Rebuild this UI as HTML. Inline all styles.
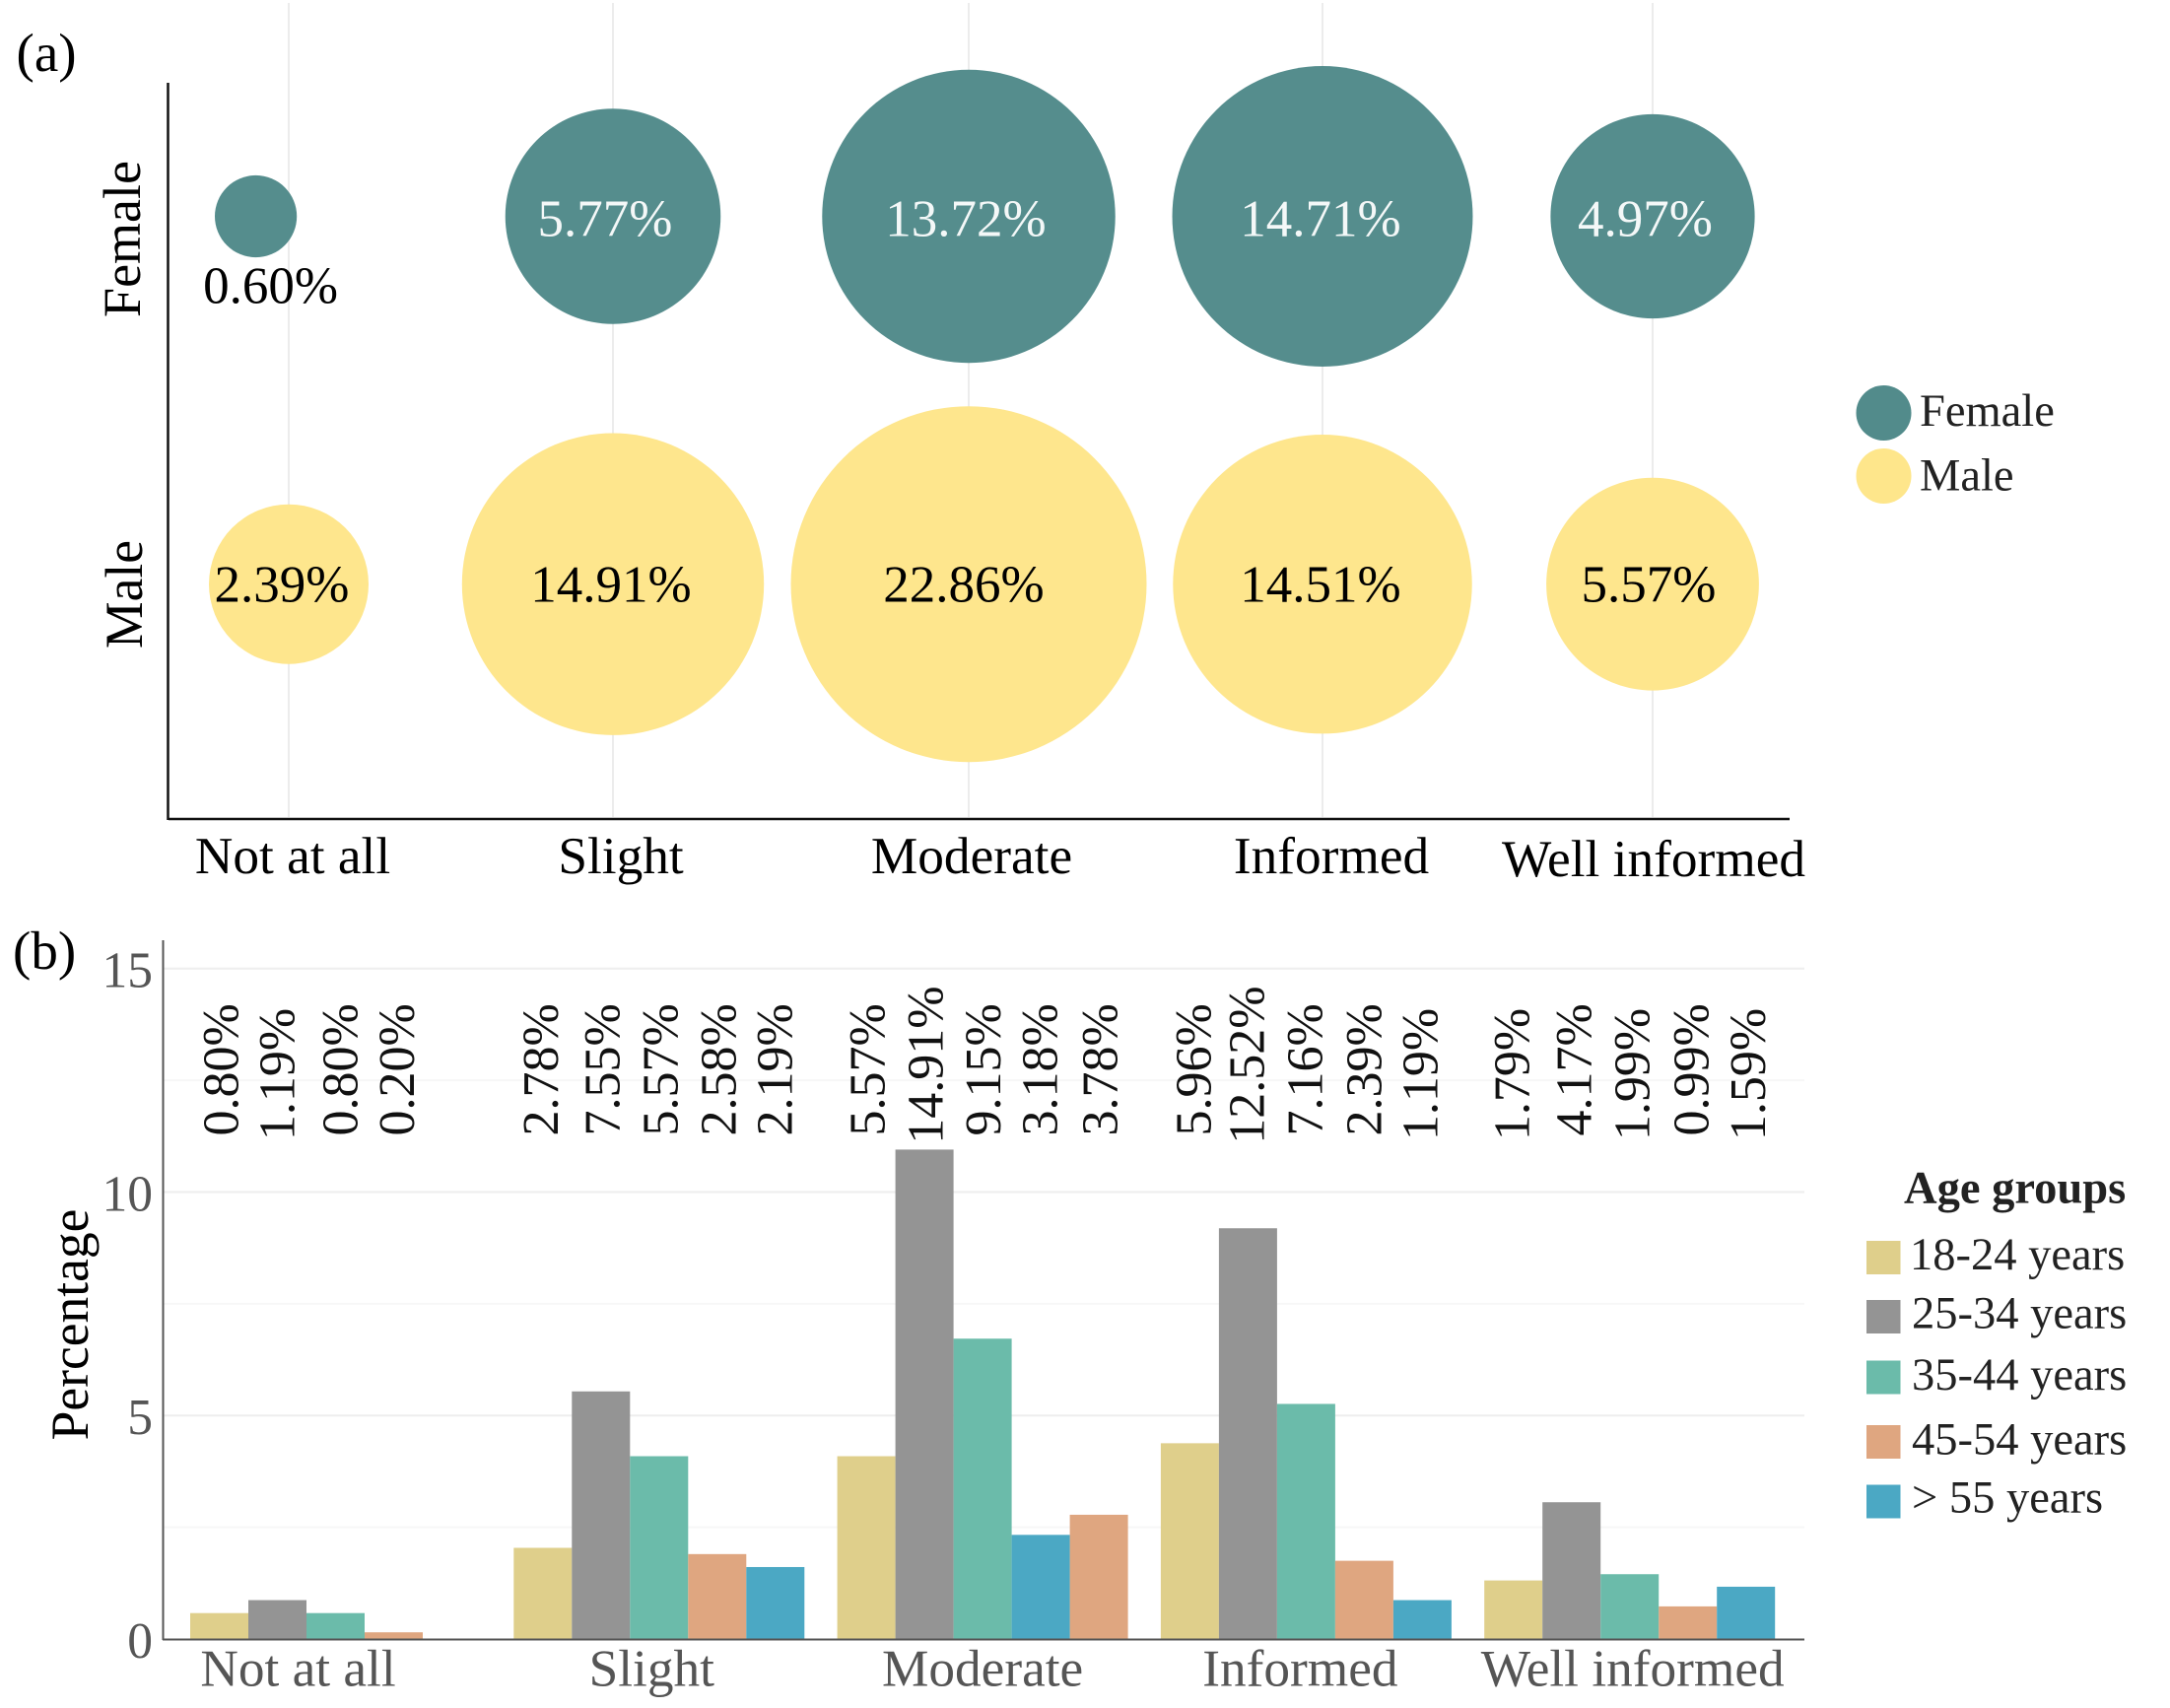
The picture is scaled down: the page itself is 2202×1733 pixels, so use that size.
<!DOCTYPE html>
<html lang="en">
<head>
<meta charset="utf-8">
<title>Awareness by gender and age group</title>
<style>
  html, body { margin: 0; padding: 0; background: #fff; }
  svg { display: block; }
  text { font-family: "Liberation Serif", "Times New Roman", serif; }
</style>
</head>
<body>
<svg id="figure" xmlns="http://www.w3.org/2000/svg" width="2202" height="1733" viewBox="0 0 2202 1733">
  <rect x="0" y="0" width="2202" height="1733" fill="#ffffff"/>
  <g id="gridA"></g>
  <g id="bubbles"></g>
  <g id="ticksA"></g>
  <g id="gridB"></g>
  <g id="bars"></g>
  <g id="printed"></g>
  <g id="ticksB"></g>
  <g id="legendB"></g>

  <text x="16.5" y="72" font-size="55" fill="#000">(a)</text>
  <text x="13" y="983" font-size="55" fill="#000">(b)</text>

  <line x1="170.5" y1="84" x2="170.5" y2="832" stroke="#111" stroke-width="2.5"/>
  <line x1="171" y1="831" x2="1816" y2="831" stroke="#111" stroke-width="2.5"/>
  <text transform="translate(142,242.5) rotate(-90)" text-anchor="middle" font-size="54" fill="#000">Female</text>
  <text transform="translate(144,603) rotate(-90)" text-anchor="middle" font-size="53.5" fill="#000">Male</text>

  <g>
    <circle cx="1911.5" cy="419" r="28" fill="#528b8b"/>
    <text x="1948" y="432" font-size="46.5" fill="#222">Female</text>
    <circle cx="1911.5" cy="483" r="28" fill="#fee68b"/>
    <text x="1948" y="497.5" font-size="46.5" fill="#222">Male</text>
  </g>

  <line x1="165.5" y1="954" x2="165.5" y2="1664" stroke="#555" stroke-width="2"/>
  <line x1="165" y1="1663.5" x2="1831" y2="1663.5" stroke="#555" stroke-width="2"/>
  <text transform="translate(89,1344) rotate(-90)" text-anchor="middle" font-size="53.5" fill="#000">Percentage</text>
  <text x="1932" y="1220.5" font-size="46.5" font-weight="bold" fill="#222">Age groups</text>
</svg>

<script>
// Panel (a) data
const categories = ['Not at all', 'Slight', 'Moderate', 'Informed', 'Well informed'];
const femaleValues = [0.60, 5.77, 13.72, 14.71, 4.97];
const maleValues = [2.39, 14.91, 22.86, 14.51, 5.57];

// Panel (b) data: bar heights
const ageGroups = ['18-24 years', '25-34 years', '35-44 years', '45-54 years', '> 55 years'];
const bars1824 = [0.58, 2.04, 4.09, 4.38, 1.31];
const bars2534 = [0.87, 5.54, 10.95, 9.19, 3.06];
const bars3544 = [0.58, 4.09, 6.72, 5.26, 1.45];
const bars4554 = [0.15, 1.90, 2.78, 1.75, 0.73];
const bars55up = [null, 1.61, 2.33, 0.87, 1.17];

// Panel (b) data: percentages printed above the bars
const printed1824 = ['0.80%', '2.78%', '5.57%', '5.96%', '1.79%'];
const printed2534 = ['1.19%', '7.55%', '14.91%', '12.52%', '4.17%'];
const printed3544 = ['0.80%', '5.57%', '9.15%', '7.16%', '1.99%'];
const printed4554 = ['0.20%', '2.58%', '3.78%', '2.39%', '0.99%'];
const printed55up = [null, '2.19%', '3.18%', '1.19%', '1.59%'];

// Axis tick values
const yTicks = [0, 5, 10, 15];
const yGrid = [2.5, 5, 7.5, 10, 12.5, 15];

const barSeries = [bars1824, bars2534, bars3544, bars4554, bars55up];
const printedSeries = [printed1824, printed2534, printed3544, printed4554, printed55up];

const NS = 'http://www.w3.org/2000/svg';
function mk(parentId, tag, attrs, textContent) {
  const node = document.createElementNS(NS, tag);
  Object.keys(attrs).forEach(function (k) { node.setAttribute(k, attrs[k]); });
  if (textContent !== undefined) node.textContent = textContent;
  document.getElementById(parentId).appendChild(node);
  return node;
}

// Scales
function bubbleX(i) {
  const stops = [293, 622, 983, 1342, 1677];
  return stops[i];
}
function bubbleRadius(v) {
  const dom = [0.6, 2.39, 4.97, 14.91, 22.86];
  const rng = [41.6, 81, 103.6, 153.2, 180.5];
  let k = 0;
  while (k < dom.length - 2 && v > dom[k + 1]) k++;
  const t = (Math.log(v) - Math.log(dom[k])) / (Math.log(dom[k + 1]) - Math.log(dom[k]));
  return Math.exp(Math.log(rng[k]) + t * (Math.log(rng[k + 1]) - Math.log(rng[k])));
}
function yB(v) { return 1663 - v * 45.35; }
const swappedCategory = 'Moderate';
function barSlot(seriesIdx, catIdx) {
  if (categories[catIdx] === swappedCategory && seriesIdx === 3) return 4;
  if (categories[catIdx] === swappedCategory && seriesIdx === 4) return 3;
  return seriesIdx;
}
function barLeft(catIdx, slot) { return 193 + 328.3 * catIdx + 59 * slot; }

const seriesColors = ['#dfcf8b', '#949494', '#6bbbaa', '#dfa680', '#4ba8c4'];

// Panel (a)
categories.forEach(function (cat, i) {
  const g = mk('gridA', 'line', { x1: bubbleX(i), x2: bubbleX(i), y1: 3, y2: 829, stroke: '#ececec', 'stroke-width': 2 });
  
  
});

function drawBubbles(values, cy, baseline, fill, labelFill, shifts, markName, labelName) {
  values.forEach(function (v, i) {
    const r = bubbleRadius(v);
    const tiny = v < 1;
    const cx = bubbleX(i) + (tiny ? -33.4 : 0);
    const c = mk('bubbles', 'circle', { cx: cx, cy: cy, r: r, fill: fill, 'fill-opacity': 0.985 });
    
    
    const t = mk('bubbles', 'text', {
      x: cx + shifts[i],
      y: tiny ? cy + r + 46.5 : baseline,
      'text-anchor': 'middle',
      'font-size': 53,
      fill: tiny ? '#000' : labelFill
    }, v.toFixed(2) + '%');
    
    
  });
}
drawBubbles(femaleValues, 219.5, 239.5, '#528b8b', '#f4f8f8', [15, -8, -3, -2, -7.5], 'bubble-female', 'bubble-label-female');
drawBubbles(maleValues, 592.7, 610.5, '#fee68b', '#000', [-7, -2, -5, -2, -4], 'bubble-male', 'bubble-label-male');

const tickNudgeA = [4, 8, 3, 9, 1];
categories.forEach(function (cat, i) {
  const t = mk('ticksA', 'text', {
    x: bubbleX(i) + tickNudgeA[i],
    y: cat === 'Well informed' ? 889 : 886,
    'text-anchor': 'middle',
    'font-size': 53.3,
    fill: '#000'
  }, cat);
  
  
});

// Panel (b)
yGrid.forEach(function (v) {
  const minor = v % 5 !== 0;
  const g = mk('gridB', 'line', { x1: 166, x2: 1831, y1: yB(v), y2: yB(v), stroke: minor ? '#f7f7f7' : '#eeeeee', 'stroke-width': 2 });
  
  
});

barSeries.forEach(function (series, s) {
  series.forEach(function (v, c) {
    if (v === null) return;
    const b = mk('bars', 'rect', {
      x: barLeft(c, barSlot(s, c)),
      y: yB(v),
      width: 59,
      height: yB(0) - yB(v),
      fill: seriesColors[s]
    });
    
    
  });
});

function labelNudge(catIdx, slot) {
  const table = [
    [19.2, 16.8, 22.2, 20.5, 18.5],
    [15.2, 18.9, 18.9, 18.9, 16.5],
    [18.6, 18.6, 17.9, 16.2, 18.2],
    [20.9, 16.3, 16.3, 17.3, 14.9],
    [16.0, 19.6, 19.6, 20.6, 19.3]
  ];
  return table[catIdx][slot];
}
printedSeries.forEach(function (series, s) {
  series.forEach(function (label, c) {
    if (label === null) return;
    const slot = barSlot(s, c);
    const bx = barLeft(c, slot) + 29.5 + labelNudge(c, slot);
    const by = 1152.5 + (label.charAt(0) === '1' ? 4.6 : 0) + (parseFloat(label) >= 10 ? 3.6 : 0);
    const t = mk('printed', 'text', {
      transform: 'translate(' + bx + ',' + by + ') rotate(-90)',
      'font-size': 52,
      fill: '#111'
    }, label);
    
    
  });
});

yTicks.forEach(function (v) {
  const t = mk('ticksB', 'text', {
    x: 155,
    y: yB(v) + 18.8,
    'text-anchor': 'end',
    'font-size': 51.5,
    fill: '#555'
  }, String(v));
  
  
});

const tickNudgeB = [-38, -7.5, 0, -6, 3];
categories.forEach(function (cat, i) {
  const t = mk('ticksB', 'text', {
    x: barLeft(i, 2.5) + tickNudgeB[i],
    y: 1710.5,
    'text-anchor': 'middle',
    'font-size': 53.3,
    fill: '#555'
  }, cat);
  
  
});

// Legend (b)
const legendTops = [1259, 1319, 1380.5, 1446, 1506.5];
const legendBase = [1288, 1347.7, 1410, 1475.3, 1534.4];
ageGroups.forEach(function (name, i) {
  const sw = mk('legendB', 'rect', { x: 1894, y: legendTops[i], width: 34.5, height: 34, fill: seriesColors[i] });
  
  
  const t = mk('legendB', 'text', { x: i === 0 ? 1938 : 1940, y: legendBase[i], 'font-size': 46.5, fill: '#222' }, name);
  
  
});
</script>
</body>
</html>
